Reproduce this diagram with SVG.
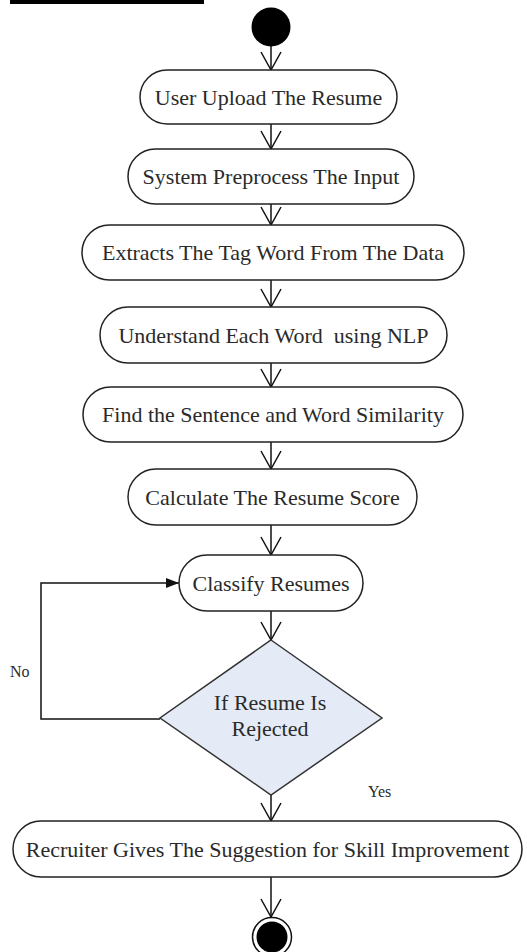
<svg xmlns="http://www.w3.org/2000/svg" width="527" height="952" viewBox="0 0 527 952">
  <defs>
    <marker id="open" markerUnits="userSpaceOnUse" markerWidth="40" markerHeight="40" refX="0" refY="0" orient="auto" overflow="visible">
      <path d="M-18,-10 L0,0 L-18,10" fill="none" stroke="#111" stroke-width="1.5"/>
    </marker>
    <marker id="filled" markerUnits="userSpaceOnUse" markerWidth="20" markerHeight="20" refX="0" refY="0" orient="auto" overflow="visible">
      <path d="M-13,-5 L0,0 L-13,5 Z" fill="#111" stroke="none"/>
    </marker>
  </defs>
  <style>
    .act { fill: #ffffff; stroke: #222; stroke-width: 1.5; }
    .lbl { font-family: "Liberation Serif", "Times New Roman", serif; font-size: 22px; fill: #2a2a2a; text-anchor: middle; }
    .small { font-family: "Liberation Serif", "Times New Roman", serif; font-size: 16px; fill: #2a2a2a; }
    .edge { fill: none; stroke: #111; stroke-width: 1.5; }
  </style>
  <rect x="10" y="0" width="194" height="4" fill="#000"/>

  <g id="connectors">
    <line class="edge" x1="271" y1="46" x2="271" y2="70" marker-end="url(#open)"/>
    <line class="edge" x1="271" y1="124" x2="271" y2="149" marker-end="url(#open)"/>
    <line class="edge" x1="271" y1="204" x2="271" y2="225" marker-end="url(#open)"/>
    <line class="edge" x1="271" y1="280" x2="271" y2="307" marker-end="url(#open)"/>
    <line class="edge" x1="271" y1="363" x2="271" y2="387" marker-end="url(#open)"/>
    <line class="edge" x1="271" y1="442" x2="271" y2="469" marker-end="url(#open)"/>
    <line class="edge" x1="271" y1="525" x2="271" y2="555" marker-end="url(#open)"/>
    <line class="edge" x1="271" y1="611" x2="271" y2="640" marker-end="url(#open)"/>
    <line class="edge" x1="271" y1="795" x2="271" y2="821" marker-end="url(#open)"/>
    <line class="edge" x1="271" y1="877" x2="271" y2="917" marker-end="url(#open)"/>
    <polyline class="edge" points="160,719 41,719 41,583 179,583" marker-end="url(#filled)"/>
    <text class="small" x="10" y="677">No</text>
    <text class="small" x="368" y="797">Yes</text>
  </g>

  <g id="start">
    <circle cx="271" cy="27" r="19.5" fill="#000"/>
  </g>

  <g id="n1">
    <rect class="act" x="140" y="70" width="257" height="54" rx="27"/>
    <text class="lbl" x="268.5" y="104.5">User Upload The Resume</text>
  </g>
  <g id="n2">
    <rect class="act" x="128" y="149" width="286" height="55" rx="27.5"/>
    <text class="lbl" x="271" y="184">System Preprocess The Input</text>
  </g>
  <g id="n3">
    <rect class="act" x="82" y="225" width="382" height="55" rx="27.5"/>
    <text class="lbl" x="273" y="260">Extracts The Tag Word From The Data</text>
  </g>
  <g id="n4">
    <rect class="act" x="100" y="307" width="347" height="56" rx="28"/>
    <text class="lbl" x="273.5" y="342.5" xml:space="preserve">Understand Each Word  using NLP</text>
  </g>
  <g id="n5">
    <rect class="act" x="83" y="387" width="380" height="55" rx="27.5"/>
    <text class="lbl" x="273" y="422">Find the Sentence and Word Similarity</text>
  </g>
  <g id="n6">
    <rect class="act" x="128" y="469" width="289" height="56" rx="28"/>
    <text class="lbl" x="272.5" y="504.5">Calculate The Resume Score</text>
  </g>
  <g id="n7">
    <rect class="act" x="179" y="555" width="184" height="56" rx="28"/>
    <text class="lbl" x="271" y="590.5">Classify Resumes</text>
  </g>
  <g id="decision">
    <polygon points="271,640 382,718 271,795 160,718" fill="#E4EAF6" stroke="#333" stroke-width="1.5"/>
    <text class="lbl" x="270" y="710">If Resume Is</text>
    <text class="lbl" x="270" y="736">Rejected</text>
  </g>
  <g id="n8">
    <rect class="act" x="13" y="821" width="509" height="56" rx="28"/>
    <text class="lbl" x="267.5" y="856.5">Recruiter Gives The Suggestion for Skill Improvement</text>
  </g>
  <g id="end">
    <circle cx="272" cy="937" r="19.5" fill="#fff" stroke="#111" stroke-width="1.5"/>
    <circle cx="272" cy="937" r="15.5" fill="#000"/>
  </g>
</svg>
